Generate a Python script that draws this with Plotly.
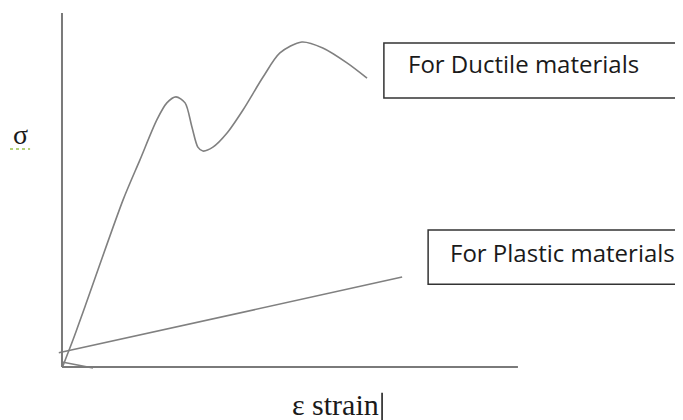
import plotly.graph_objects as go

# Ductile material curve (strain, stress) in arbitrary units
ductile_strain = [0.2, 2.4, 5.0, 13.4, 17.1, 20.8, 23.0, 25.0, 27.0, 28.5, 29.8, 30.9,
                  33.1, 36.2, 39.7, 44.1, 47.8, 52.6, 57.2, 62.5, 66.9]
ductile_stress = [0.3, 7.6, 16.9, 47.2, 58.5, 69.8, 74.6, 76.3, 74.6, 67.8, 62.1, 61.0,
                  62.1, 66.1, 72.6, 81.9, 88.7, 91.8, 90.1, 85.9, 81.6]

# small tail stroke near the origin
tail_strain = [0.0, 6.8]
tail_stress = [1.4, -0.3]

# Plastic material line
plastic_strain = [-0.7, 74.6]
plastic_stress = [4.0, 25.4]

label_ductile = "For Ductile materials"
label_plastic = "For Plastic materials"
label_y = "σ"
label_x = "ε strain"

line_grey = "#808080"

fig = go.Figure()
fig.add_trace(go.Scatter(x=ductile_strain, y=ductile_stress, mode="lines",
                         line=dict(color=line_grey, width=1.6, shape="spline", smoothing=0.8),
                         showlegend=False, hoverinfo="skip"))
fig.add_trace(go.Scatter(x=tail_strain, y=tail_stress, mode="lines",
                         line=dict(color=line_grey, width=1.6),
                         showlegend=False, hoverinfo="skip"))
fig.add_trace(go.Scatter(x=plastic_strain, y=plastic_stress, mode="lines",
                         line=dict(color=line_grey, width=1.6),
                         showlegend=False, hoverinfo="skip"))

# axes lines
fig.add_shape(type="line", x0=0, x1=0, y0=0, y1=100, line=dict(color="#7a7a7a", width=2))
fig.add_shape(type="line", x0=0, x1=100, y0=0, y1=0, line=dict(color="#7a7a7a", width=2))

# text boxes
fig.add_shape(type="rect", x0=70.6, x1=135.5, y0=76.0, y1=91.5,
              line=dict(color="#333333", width=1.5), fillcolor="white")
fig.add_shape(type="rect", x0=80.3, x1=145, y0=23.4, y1=38.7,
              line=dict(color="#333333", width=1.5), fillcolor="white")

sans = "Open Sans, Noto Sans, sans-serif"
fig.add_annotation(x=75.4, y=85.6, text=label_ductile, showarrow=False, xanchor="left",
                   yanchor="middle", font=dict(family=sans, size=24, color="#1a1a1a"))
fig.add_annotation(x=84.6, y=32.4, text=label_plastic, showarrow=False, xanchor="left",
                   yanchor="middle", font=dict(family=sans, size=24, color="#1a1a1a"))

serif = "Liberation Serif, Times New Roman, serif"
fig.add_annotation(x=-9.2, y=65.6, text=label_y, showarrow=False,
                   font=dict(family=serif, size=28, color="#1a1a1a"))
fig.add_shape(type="line", x0=-11.4, x1=-7.0, y0=61.6, y1=61.6,
              line=dict(color="#9bc24a", width=1.5, dash="dot"))
fig.add_annotation(x=50.0, y=-10.7, text=label_x, showarrow=False, xanchor="left",
                   yanchor="middle", font=dict(family=serif, size=30, color="#1a1a1a"))
fig.add_shape(type="line", x0=70.2, x1=70.2, y0=-7.3, y1=-15.5,
              line=dict(color="#111111", width=1.5))

# page body has an 8px margin, so the figure is 8px smaller and ranges are shifted
fig.update_xaxes(range=[-11.84, 136.2], visible=False)
fig.update_yaxes(range=[-14.97, 101.4], visible=False)
fig.update_layout(width=675, height=412, margin=dict(l=0, r=0, t=0, b=0),
                  plot_bgcolor="white", paper_bgcolor="white")

fig.write_html("out.html")
